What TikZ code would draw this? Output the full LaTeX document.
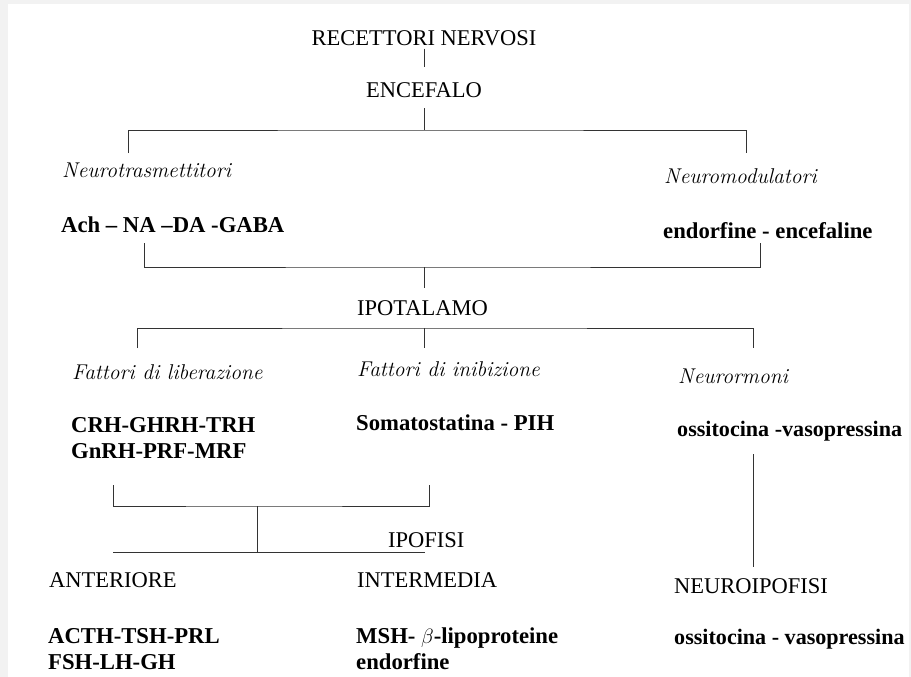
\documentclass[tikz,border=0pt]{standalone}
\usepackage{fontspec}
\setmainfont{Liberation Serif}
\newfontfamily\cmit{Latin Modern Roman}
\usetikzlibrary{positioning}
\definecolor{frame}{HTML}{F2F2F2}
\definecolor{ink}{HTML}{333333}
\tikzset{
  head/.style={font=\fontsize{22.5}{26}\selectfont,inner sep=2pt},
  kind/.style={font=\cmit\itshape\fontsize{21.4}{24}\selectfont,inner sep=2pt,anchor=base west},
  list/.style={font=\bfseries\fontsize{22.7}{26}\selectfont,inner sep=1pt,align=left,anchor=base west},
  narrow/.style={list,font=\bfseries\fontsize{22.1}{26}\selectfont},
  link/.style={draw=ink,line width=0.9pt},
}

\begin{document}
\begin{tikzpicture}[x=1pt,y=-1pt]
  \useasboundingbox (0,0) rectangle (911,677);
  \fill[frame] (0,0) rectangle (911,677);
  \fill[white] (8,4) rectangle (909,677);
  % upper part
  \node[head,anchor=base] (rec) at (424,46) {RECETTORI NERVOSI};
  \node[head,anchor=base] (enc) at (424,98) {ENCEFALO};
  \node[kind] (ntr) at (60,177) {Neurotrasmettitori};
  \node[kind] (nmd) at (662,183) {Neuromodulatori};
  \node[list] (ach) at (60,232) {Ach – NA –DA -GABA};
  \node[list] (end) at (662,238) {endorfine - encefaline};
  \node[head,anchor=base west] (ipo) at (355,315) {IPOTALAMO};
  % hypothalamus factors
  \node[kind] (lib) at (70,379) {Fattori di liberazione};
  \node[kind] (ini) at (355,376) {Fattori di inibizione};
  \node[kind] (nrm) at (676,383) {Neurormoni};
  \node[list] (crh) at (70,458) {CRH-GHRH-TRH\\GnRH-PRF-MRF};
  \node[list] (som) at (355,430) {Somatostatina - PIH};
  \node[narrow] (oxa) at (676,436) {ossitocina -vasopressina};
  % hypophysis
  \node[head,anchor=base west] (ipf) at (386,547) {IPOFISI};
  \node[head,anchor=base west] (ant) at (47,587) {ANTERIORE};
  \node[head,anchor=base west] (itm) at (355,587) {INTERMEDIA};
  \node[head,anchor=base west] (npf) at (672,593) {NEUROIPOFISI};
  \node[list] (acth) at (47,669) {ACTH-TSH-PRL\\FSH-LH-GH};
  \node[list] (msh) at (355,669) {MSH- $\beta$-lipoproteine\\endorfine};
  \node[narrow] (oxb) at (673,644) {ossitocina - vasopressina};
  % junctions
  \coordinate (e0) at (424,130);
  \coordinate (eL) at (128,153);
  \coordinate (eR) at (746,153);
  \coordinate (aL) at (144,243);
  \coordinate (aR) at (760,243);
  \coordinate (a0) at (424,267);
  \coordinate (a1) at (424,288);
  \coordinate (f0) at (424,328);
  \coordinate (fL) at (137,348);
  \coordinate (fM) at (424,348);
  \coordinate (fR) at (753,348);
  \coordinate (gL) at (113,485);
  \coordinate (gR) at (429,485);
  \coordinate (g0) at (257,506);
  \coordinate (g1) at (257,552);
  \coordinate (pL) at (113,552);
  \coordinate (pR) at (425,552);
  \coordinate (nT) at (753,454);
  \coordinate (nB) at (753,567);
  % connectors
  \draw[link,shorten >=14pt] (rec) -- (enc);
  \draw[link,shorten <=8pt] (enc.south) -- (e0);
  \draw[link] (eL) |- (e0) -| (eR);
  \draw[link] (aL) |- (a0) -| (aR);
  \draw[link] (a0) -- (a1);
  \draw[link] (fL) |- (f0) -| (fR);
  \draw[link] (f0) -- (fM);
  \draw[link] (gL) |- (g0) -| (gR);
  \draw[link] (g0) -- (g1);
  \draw[link] (pL) -- (pR);
  \draw[link] (nT) -- (nB);
\end{tikzpicture}
\end{document}
